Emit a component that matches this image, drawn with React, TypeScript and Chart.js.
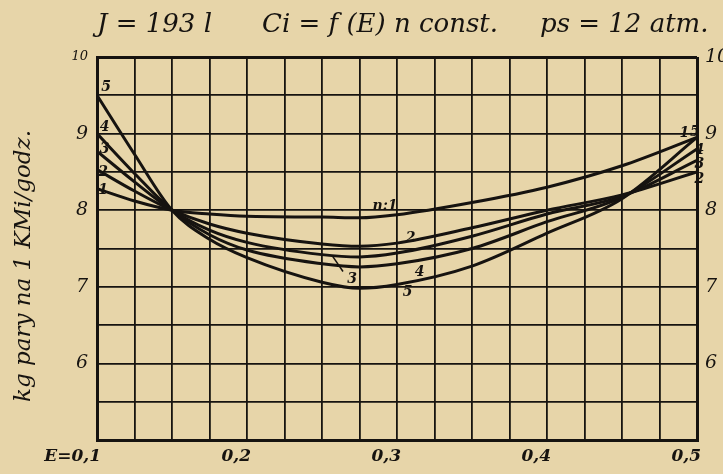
import React, { useEffect, useRef } from "react";
import { Chart, registerables } from "chart.js";

Chart.register(...registerables);

// ---- data ----
const E_VALUES = [0.1, 0.125, 0.15, 0.175, 0.2, 0.25, 0.275, 0.3, 0.35, 0.4, 0.45, 0.5];
const CURVE_N1 = [8.28, 8.12, 8.0, 7.95, 7.92, 7.91, 7.9, 7.94, 8.1, 8.3, 8.58, 8.95];
const CURVE_N2 = [8.53, 8.25, 8.0, 7.82, 7.7, 7.56, 7.53, 7.57, 7.77, 8.0, 8.2, 8.5];
const CURVE_N3 = [8.77, 8.37, 8.0, 7.74, 7.58, 7.42, 7.39, 7.44, 7.66, 7.95, 8.18, 8.65];
const CURVE_N4 = [9.0, 8.48, 8.0, 7.68, 7.48, 7.3, 7.26, 7.3, 7.5, 7.85, 8.17, 8.8];
const CURVE_N5 = [9.5, 8.73, 8.0, 7.62, 7.38, 7.06, 6.98, 7.03, 7.27, 7.7, 8.15, 8.95];
const SERIES = [CURVE_N1, CURVE_N2, CURVE_N3, CURVE_N4, CURVE_N5];
const SERIES_NAMES = ["n = 1", "n = 2", "n = 3", "n = 4", "n = 5"];

const X_LABEL_VALUES = [0.1, 0.2, 0.3, 0.4, 0.5];
const X_LABEL_TEXTS = ["E=0,1", "0,2", "0,3", "0,4", "0,5"];
const Y_LABEL_VALUES = [6, 7, 8, 9, 10];

const TITLE_PARTS = ["J = 193 l", "Ci = f (E) n const.", "ps = 12 atm."];
const Y_TITLE = "kg pary na 1 KMi/godz.";

// curve annotations (text, E, value)
const CURVE_LABEL_TEXTS = ["5", "4", "3", "2", "1", "n:1", "2", "3", "4", "5", "1", "5", "4", "3", "2"];
const CURVE_LABEL_E = [0.106, 0.105, 0.105, 0.104, 0.104, 0.292, 0.309, 0.27, 0.315, 0.307, 0.4915, 0.4985, 0.5015, 0.5015, 0.5015];
const CURVE_LABEL_V = [9.6, 9.08, 8.79, 8.49, 8.26, 8.05, 7.63, 7.1, 7.19, 6.93, 9.0, 9.02, 8.78, 8.6, 8.4];

const PAPER = "#e7d5a9";
const INK = "#161310";
const SERIF = '"DejaVu Serif", serif';

const paperPlugin = {
  id: "paper",
  beforeDraw(chart: any) {
    const ctx = chart.ctx;
    ctx.save();
    ctx.fillStyle = PAPER;
    ctx.fillRect(0, 0, chart.width, chart.height);
    ctx.restore();
  },
};

const textPlugin = {
  id: "texts",
  afterDraw(chart: any) {
    const ctx = chart.ctx;
    const xs = chart.scales.x;
    const ys = chart.scales.y;
    ctx.save();
    ctx.fillStyle = INK;
    ctx.strokeStyle = INK;
    // title
    ctx.font = `italic 26px ${SERIF}`;
    ctx.textAlign = "left";
    ctx.textBaseline = "alphabetic";
    const titleX = [97, 262, 540];
    TITLE_PARTS.forEach((t, i) => ctx.fillText(t, titleX[i], 32));
    // y title
    ctx.save();
    ctx.translate(24, 266);
    ctx.rotate(-Math.PI / 2);
    ctx.font = `italic 23px ${SERIF}`;
    ctx.textAlign = "center";
    ctx.textBaseline = "middle";
    ctx.fillText(Y_TITLE, 0, 0);
    ctx.restore();
    // curve labels
    ctx.font = `italic bold 14px ${SERIF}`;
    ctx.textAlign = "center";
    ctx.textBaseline = "middle";
    CURVE_LABEL_TEXTS.forEach((t, i) => {
      const px = xs.getPixelForValue(CURVE_LABEL_E[i]);
      const py = ys.getPixelForValue(CURVE_LABEL_V[i]);
      ctx.fillText(t, px, py);
    });
    // leader for label 3
    ctx.lineWidth = 1.5;
    ctx.beginPath();
    ctx.moveTo(xs.getPixelForValue(0.257), ys.getPixelForValue(7.4));
    ctx.lineTo(xs.getPixelForValue(0.264), ys.getPixelForValue(7.2));
    ctx.stroke();
    ctx.restore();
  },
};

const isEdge = (v: number, a: number, b: number) => Math.abs(v - a) < 1e-6 || Math.abs(v - b) < 1e-6;

export default function App() {
  const ref = useRef<HTMLCanvasElement | null>(null);

  useEffect(() => {
    document.body.style.margin = "0";
    document.body.style.background = PAPER;
    const canvas = ref.current;
    if (!canvas) return;
    const chart = new Chart(canvas, {
      type: "line",
      data: {
        datasets: SERIES.map((vals, i) => ({
          label: SERIES_NAMES[i],
          data: vals.map((v, j) => ({ x: E_VALUES[j], y: v })),
          borderColor: INK,
          borderWidth: 3,
          pointRadius: 0,
          fill: false,
          cubicInterpolationMode: "monotone" as const,
          yAxisID: "y",
        })),
      },
      options: {
        responsive: false,
        animation: false,
        layout: { padding: { top: 57, left: 0, right: 0, bottom: 0 } },
        plugins: {
          legend: { display: false },
          title: { display: false },
          tooltip: { enabled: false },
        },
        scales: {
          x: {
            type: "linear",
            min: 0.1,
            max: 0.5,
            afterFit: (s: any) => {
              s.height = 34;
            },
            grid: {
              color: INK,
              lineWidth: (c: any) => (isEdge(c.tick?.value ?? 0, 0.1, 0.5) ? 3 : 1.8),
              drawTicks: false,
            },
            border: { color: INK, width: 3 },
            ticks: {
              stepSize: 0.025,
              maxTicksLimit: 100,
              autoSkip: false,
              maxRotation: 0,
              minRotation: 0,
              align: "end",
              labelOffset: 4,
              padding: 6,
              color: INK,
              font: { family: "DejaVu Serif", style: "italic", weight: "bold", size: 17 },
              callback: (v: any) => {
                const i = X_LABEL_VALUES.findIndex((x) => Math.abs(x - Number(v)) < 1e-6);
                return i >= 0 ? X_LABEL_TEXTS[i] : "";
              },
            },
          },
          y: {
            type: "linear",
            position: "left",
            min: 5,
            max: 10,
            afterFit: (s: any) => {
              s.width = 97;
            },
            grid: {
              color: INK,
              lineWidth: (c: any) => (isEdge(c.tick?.value ?? 0, 5, 10) ? 3 : 1.8),
              drawTicks: false,
            },
            border: { color: INK, width: 3 },
            ticks: {
              stepSize: 0.5,
              maxTicksLimit: 100,
              autoSkip: false,
              padding: 9,
              color: INK,
              font: (c: any) => ({
                family: "DejaVu Serif",
                style: "italic",
                size: c.tick && c.tick.value === 10 ? 13 : 19,
              }),
              callback: (v: any) => (Y_LABEL_VALUES.includes(Number(v)) ? String(v) : ""),
            },
          },
          y2: {
            type: "linear",
            position: "right",
            min: 5,
            max: 10,
            afterFit: (s: any) => {
              s.width = 26;
            },
            grid: { display: false, drawTicks: false },
            border: { display: false },
            ticks: {
              stepSize: 0.5,
              maxTicksLimit: 100,
              autoSkip: false,
              padding: 8,
              color: INK,
              font: { family: "DejaVu Serif", style: "italic", size: 19 },
              callback: (v: any) => (Y_LABEL_VALUES.includes(Number(v)) ? String(v) : ""),
            },
          },
        },
      },
      plugins: [paperPlugin, textPlugin],
    } as any);
    return () => chart.destroy();
  }, []);

  return (
    <div style={{ width: 723, height: 474, background: PAPER }}>
      <canvas ref={ref} width={723} height={474} style={{ display: "block" }} />
    </div>
  );
}
